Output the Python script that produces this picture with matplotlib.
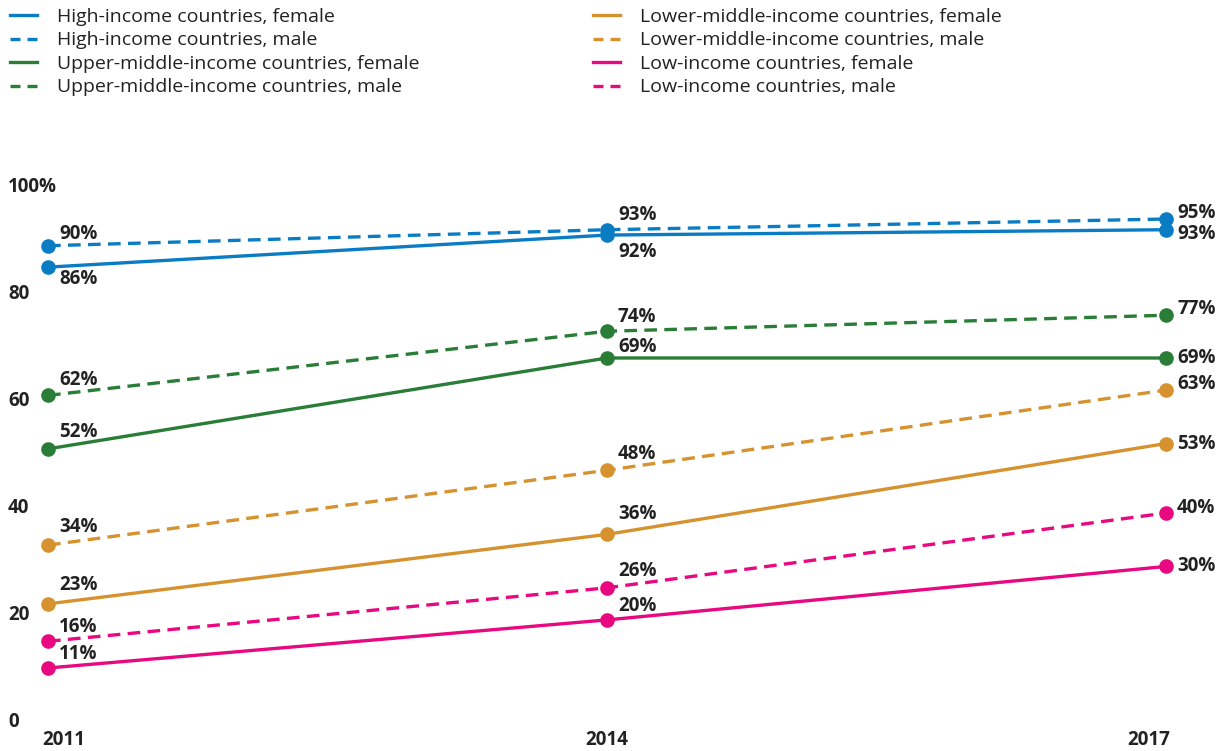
import matplotlib
matplotlib.use("Agg")
import matplotlib.pyplot as plt
from matplotlib.lines import Line2D
from matplotlib.transforms import blended_transform_factory

plt.rcParams['font.family'] = ['Open Sans', 'Noto Sans', 'DejaVu Sans']

years = [2011, 2014, 2017]
high_female = [86, 92, 93]
high_male = [90, 93, 95]
upper_female = [52, 69, 69]
upper_male = [62, 74, 77]
lower_female = [23, 36, 53]
lower_male = [34, 48, 63]
low_female = [11, 20, 30]
low_male = [16, 26, 40]
y_ticks = [0, 20, 40, 60, 80, 100]
y_tick_labels = ['0', '20', '40', '60', '80', '100%']

BLUE = '#0a7cc4'
GREEN = '#2a7d37'
ORANGE = '#d6922e'
PINK = '#e8087f'
TEXT = '#222222'

# label, values, colour, dashed, vertical label offsets (pixels) at each year
series = [
    ('High-income countries, female', high_female, BLUE, False, [-12, -17, -4]),
    ('High-income countries, male', high_male, BLUE, True, [12, 15, 6]),
    ('Upper-middle-income countries, female', upper_female, GREEN, False, [17, 11, 0]),
    ('Upper-middle-income countries, male', upper_male, GREEN, True, [15, 14, 6]),
    ('Lower-middle-income countries, female', lower_female, ORANGE, False, [19, 20, 0]),
    ('Lower-middle-income countries, male', lower_male, ORANGE, True, [18, 16, 6]),
    ('Low-income countries, female', low_female, PINK, False, [14, 14, 0]),
    ('Low-income countries, male', low_male, PINK, True, [14, 17, 5]),
]

fig = plt.figure(figsize=(12.2, 7.51), dpi=100)
ax = fig.add_axes([48 / 1220, 24.2 / 751, 1118 / 1220, 534.5 / 751])

handles = []
for name, vals, col, dashed, offs in series:
    ls = (0, (3.8, 2.2)) if dashed else '-'
    ax.plot(years, vals, color=col, lw=2.4, ls=ls, marker='o', ms=9.5,
            clip_on=False, zorder=3)
    handles.append(Line2D([], [], color=col, lw=2.4,
                          ls=(0, (3.0, 2.1)) if dashed else '-'))
    for x, v, dy in zip(years, vals, offs):
        ax.annotate(f'{v}%', (x, v), xytext=(11, dy), textcoords='offset pixels',
                    ha='left', va='center', fontsize=13.5, fontweight='bold',
                    color=TEXT)

ax.set_xlim(2011, 2017)
ax.set_ylim(0, 100)
ax.set_xticks([])
ax.set_yticks([])
for s in ax.spines.values():
    s.set_visible(False)

# year labels: first left-aligned, middle centred, last right-aligned
xtrans = blended_transform_factory(ax.transData, ax.transAxes)
aligns = [('left', -6), ('center', 0), ('right', 4)]
for yr, (ha, dx) in zip(years, aligns):
    ax.annotate(str(yr), (yr, 0), xycoords=xtrans, xytext=(dx, -18),
                textcoords='offset pixels', ha=ha, va='baseline', fontsize=13.5,
                fontweight='bold', color=TEXT, annotation_clip=False)

trans = blended_transform_factory(fig.transFigure, ax.transData)
for t, lab in zip(y_ticks, y_tick_labels):
    ax.text(8 / 1220, t, lab, transform=trans, ha='left', va='baseline',
            fontsize=13.5, fontweight='bold', color=TEXT)

names = [s[0] for s in series]
leg_kw = dict(frameon=False, fontsize=14, handlelength=1.39, handletextpad=1.03,
              labelspacing=0.28, labelcolor=TEXT, borderaxespad=0, borderpad=0)
fig.legend(handles[:4], names[:4], loc='upper left',
           bbox_to_anchor=(10 / 1220, 1 - 8 / 751), **leg_kw)
fig.legend(handles[4:], names[4:], loc='upper left',
           bbox_to_anchor=(593 / 1220, 1 - 8 / 751), **leg_kw)

fig.savefig('out.png', dpi=100)
